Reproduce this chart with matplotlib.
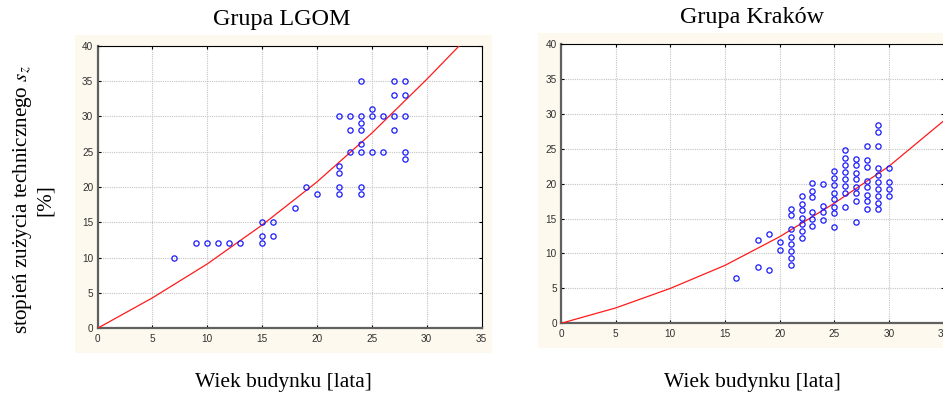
import numpy as np
import matplotlib
matplotlib.use("Agg")
import matplotlib.pyplot as plt
from matplotlib.patches import Rectangle

plt.rcParams['font.family'] = ['Liberation Serif', 'DejaVu Serif']
plt.rcParams['mathtext.fontset'] = 'stix'

# --- data ---
lgom_x = [7, 9, 10, 11, 12, 13, 15, 15, 15, 16, 16, 18, 19, 20,
          22, 22, 22, 22, 22, 23, 23, 23,
          24, 24, 24, 24, 24, 24, 24, 24,
          25, 25, 25, 26, 26, 27, 27, 27, 27, 28, 28, 28, 28, 28]
lgom_y = [10, 12, 12, 12, 12, 12, 15, 13, 12, 15, 13, 17, 20, 19,
          30, 23, 22, 20, 19, 30, 28, 25,
          35, 30, 29, 28, 26, 25, 20, 19,
          31, 30, 25, 30, 25, 35, 33, 30, 28, 35, 33, 30, 25, 24]
lgom_fit_x = [0, 5, 10, 15, 20, 25, 30, 33]
lgom_fit_y = [0, 4.3, 9.1, 14.6, 20.7, 27.6, 35.2, 40]

krk_x = ([16] + [18] * 2 + [19] * 2 + [20] * 2 + [21] * 8 + [22] * 7 + [23] * 6
         + [24] * 4 + [25] * 8 + [26] * 8 + [27] * 8 + [28] * 8 + [29] * 10 + [30] * 4)
krk_y = [6.5,
         12.0, 8.0,
         12.8, 7.7,
         11.6, 10.5,
         16.4, 15.5, 13.5, 12.3, 11.4, 10.3, 9.4, 8.3,
         18.2, 17.1, 16.2, 15.1, 14.2, 13.2, 12.2,
         20.1, 19.0, 18.1, 16.0, 15.0, 14.0,
         19.9, 16.85, 15.9, 14.8,
         21.8, 20.8, 19.8, 18.7, 17.8, 16.7, 15.75, 13.75,
         24.8, 23.7, 22.6, 21.6, 20.6, 19.6, 18.6, 16.7,
         23.5, 22.6, 21.5, 20.6, 19.5, 18.6, 17.5, 14.5,
         25.4, 23.4, 22.4, 20.4, 19.5, 18.4, 17.5, 16.4,
         28.35, 27.4, 25.4, 22.3, 21.3, 20.3, 19.3, 18.2, 17.3, 16.4,
         22.3, 20.3, 19.2, 18.2]
krk_fit_x = [0, 5, 10, 15, 20, 25, 30, 35]
krk_fit_y = [0, 2.2, 5.0, 8.3, 12.4, 17.2, 22.5, 29.0]

titles = ["Grupa LGOM", "Grupa Kraków"]
xlabel = "Wiek budynku [lata]"
ylabel = "stopień zużycia technicznego $s_z$\n[%]"

W, H = 943, 394
fig = plt.figure(figsize=(W / 100, H / 100), dpi=100)
bg = '#FDF9EE'


def px_rect(x0, y0, x1, y1):
    # pixel box (top-left origin) -> figure fraction
    return [x0 / W, 1 - y1 / H, (x1 - x0) / W, (y1 - y0) / H]


# cream panels behind the plots
for (x0, y0, x1, y1) in [(75, 35, 492, 353), (538, 33, 943, 348)]:
    r = px_rect(x0, y0, x1, y1)
    fig.patches.append(Rectangle((r[0], r[1]), r[2], r[3], transform=fig.transFigure,
                                 facecolor=bg, edgecolor='none', zorder=-5))

axL = fig.add_axes(px_rect(97.5, 45.5, 481.5, 328.3))
axR = fig.add_axes(px_rect(561, 44, 943.7, 323.3))

sets = [(axL, lgom_x, lgom_y, lgom_fit_x, lgom_fit_y),
        (axR, krk_x, krk_y, krk_fit_x, krk_fit_y)]

for ax, xs, ys, fx, fy in sets:
    ax.set_zorder(2)
    ax.set_facecolor('white')
    ax.set_xlim(0, 35)
    ax.set_ylim(0, 40)
    ax.set_xticks(np.arange(0, 36, 5))
    ax.set_yticks(np.arange(0, 41, 5))
    ax.grid(True, color='#c4c4c4', linestyle=(0, (1, 1)), linewidth=0.8)
    ax.set_axisbelow(True)
    ax.plot(fx, fy, color='#ff1a1a', linewidth=0.9, zorder=3, clip_on=True)
    ax.plot(xs, ys, linestyle='none', marker='o', markersize=3.8,
            markerfacecolor='none', markeredgecolor='#1a1aff',
            markeredgewidth=0.9, zorder=4)
    for s in ['left', 'bottom']:
        ax.spines[s].set_color('#606060')
        ax.spines[s].set_linewidth(1.6)
    for s in ['top', 'right']:
        ax.spines[s].set_color('black')
        ax.spines[s].set_linewidth(0.8)
    ax.tick_params(axis='both', which='both', direction='in', length=2.5,
                   width=0.8, color='black', labelsize=7.2,
                   labelcolor='#303030')
    ax.tick_params(axis='x', top=True, bottom=True, pad=4)
    ax.tick_params(axis='y', right=True, left=True, pad=3)
    for lab in ax.get_xticklabels() + ax.get_yticklabels():
        lab.set_fontfamily(['Liberation Sans', 'DejaVu Sans'])

# titles and axis labels
fig.text(282 / W, 1 - 19 / H, titles[0], ha='center', va='center', fontsize=17.4)
fig.text(752 / W, 1 - 18 / H, titles[1], ha='center', va='center', fontsize=17.4)
fig.text(283 / W, 1 - 382 / H, xlabel, ha='center', va='center', fontsize=15.5)
fig.text(752 / W, 1 - 382 / H, xlabel, ha='center', va='center', fontsize=15.5)
fig.text(33 / W, 1 - 200 / H, ylabel, ha='center', va='center', rotation=90,
         multialignment='center', fontsize=15.2, linespacing=1.15)

fig.savefig('out.png', dpi=100)
